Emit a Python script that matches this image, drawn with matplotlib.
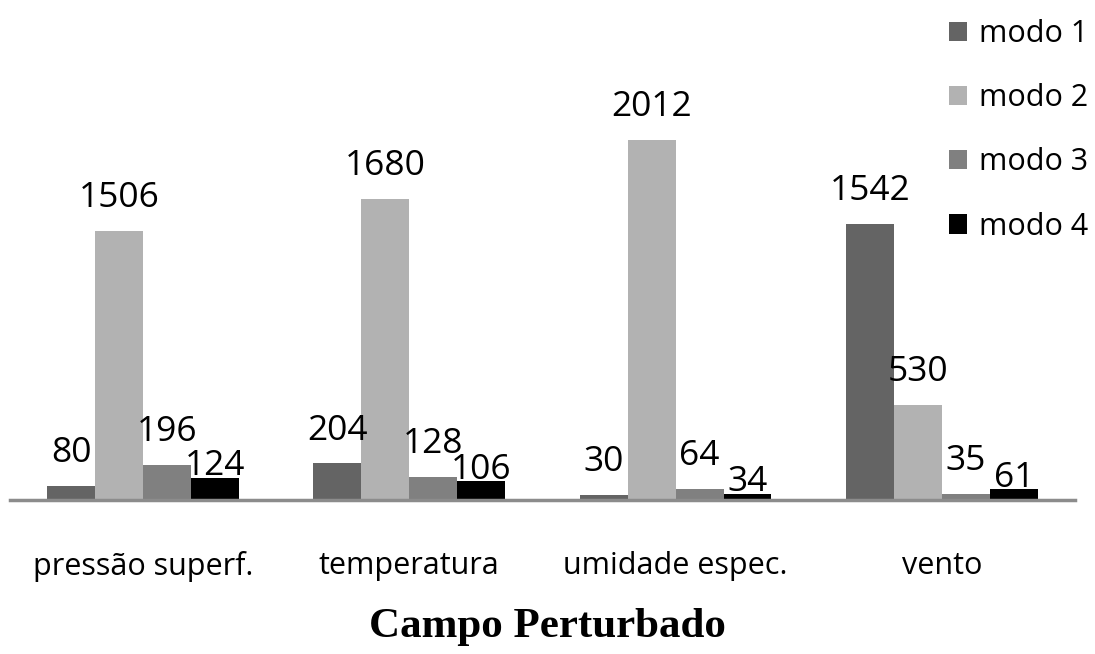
import matplotlib.pyplot as plt
import numpy as np

# data
campos = ['pressão superf.', 'temperatura', 'umidade espec.', 'vento']
modos = ['modo 1', 'modo 2', 'modo 3', 'modo 4']
modo1 = [80, 204, 30, 1542]
modo2 = [1506, 1680, 2012, 530]
modo3 = [196, 128, 64, 35]
modo4 = [124, 106, 34, 61]
series = [modo1, modo2, modo3, modo4]

colors = ['#646464', '#b2b2b2', '#808080', '#000000']
labelPad = [11.5, 11.5, 11.5, -4]  # points above the bar top, per series

fig = plt.figure(figsize=(10.95, 6.54), dpi=100)
ax = fig.add_axes([0.0091, 0.2355, 0.9726, 0.6145])

x = np.arange(len(campos))
w = 0.18
for i, vals in enumerate(series):
    bars = ax.bar(x + (i - 1.5) * w, vals, width=w, color=colors[i],
                  label=modos[i], zorder=2)
    for b, v in zip(bars, vals):
        ax.annotate(str(v), (b.get_x() + b.get_width() / 2, v),
                    xytext=(0, labelPad[i]), textcoords='offset points',
                    ha='center', va='bottom', fontsize=25.5,
                    family='Open Sans')

ax.set_xlim(-0.5, 3.5)
ax.set_ylim(0, 2246)
ax.set_yticks([])
for s in ['top', 'left', 'right']:
    ax.spines[s].set_visible(False)
ax.spines['bottom'].set_color('#8c8c8c')
ax.spines['bottom'].set_linewidth(2.5)
ax.spines['bottom'].set_zorder(3)

ax.set_xticks(x)
ax.set_xticklabels(campos, fontsize=22, family='Open Sans')
ax.tick_params(axis='x', length=0, pad=37)

fig.text(0.5, 0.042, 'Campo Perturbado', ha='center', va='center',
         fontsize=31, fontweight='bold', family='Liberation Serif')

leg = fig.legend(loc='upper left', bbox_to_anchor=(0.858, 0.985),
                 frameon=False, handlelength=0.6, handleheight=0.6,
                 handletextpad=0.4, labelspacing=1.12, borderaxespad=0,
                 borderpad=0.3, prop={'family': 'Open Sans', 'size': 22})

fig.savefig('out.png', dpi=100)
